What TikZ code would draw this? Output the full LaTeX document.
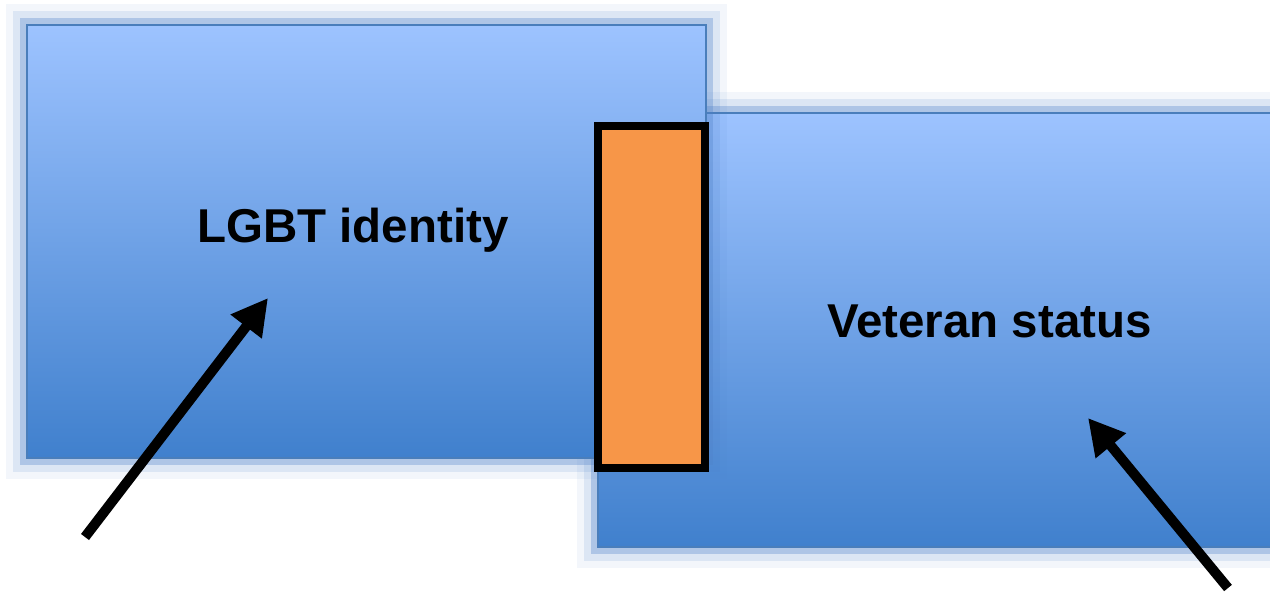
\documentclass[tikz,border=0pt]{standalone}
\usepackage{fontspec}
\setmainfont{Liberation Sans}
\usetikzlibrary{arrows.meta}
\definecolor{topblue}{RGB}{157,195,255}
\definecolor{midblue}{RGB}{120,166,235}
\definecolor{botblue}{RGB}{64,128,205}
\definecolor{edgeblue}{RGB}{74,126,187}
\definecolor{glowblue}{RGB}{79,129,200}
\definecolor{orangefill}{RGB}{247,150,72}
\begin{document}
\begin{tikzpicture}[x=1pt,y=-1pt,
  boxshape/.style={draw=edgeblue, line width=1.8pt, top color=topblue, middle color=midblue, bottom color=botblue},
  bar/.style={draw=black, line width=8pt, fill=orangefill, inner sep=0pt},
  lbl/.style={font=\fontsize{47.5}{57}\selectfont\bfseries, text=black, inner sep=0pt, anchor=base},
  arr/.style={line width=10pt, -{Triangle[length=36pt,width=37pt]}}]
\useasboundingbox (0,0) rectangle (1270,592);
\clip (0,0) rectangle (1270,592);
% corners
\coordinate (Lnw) at (27,25);
\coordinate (Lse) at (706,458);
\coordinate (Rnw) at (598,113);
\coordinate (Rse) at (1300,547);
% right box glow + box
\foreach \o/\op in {21/0.07,14/0.14,7/0.32}
  \fill[glowblue, opacity=\op] ([xshift=-\o pt,yshift=\o pt]Rnw) rectangle ([xshift=\o pt,yshift=-\o pt]Rse);
\path[boxshape] (Rnw) rectangle (Rse);
% left box glow + box
\foreach \o/\op in {21/0.07,14/0.14,7/0.32}
  \fill[glowblue, opacity=\op] ([xshift=-\o pt,yshift=\o pt]Lnw) rectangle ([xshift=\o pt,yshift=-\o pt]Lse);
\path[boxshape] (Lnw) rectangle (Lse);
% orange bar
\node[bar, minimum width=107pt, minimum height=342pt] (O) at (651.5,297) {};
% labels
\node[lbl] (t1) at (353,242) {LGBT identity};
\node[lbl] (t2) at (989.5,337) {Veteran status};
% arrows
\coordinate (a1s) at (85,537);
\coordinate (a1e) at (268,298);
\coordinate (a2s) at (1228,588);
\coordinate (a2e) at (1088,418);
\draw[arr] (a1s) -- (a1e);
\draw[arr] (a2s) -- (a2e);
\end{tikzpicture}
\end{document}
